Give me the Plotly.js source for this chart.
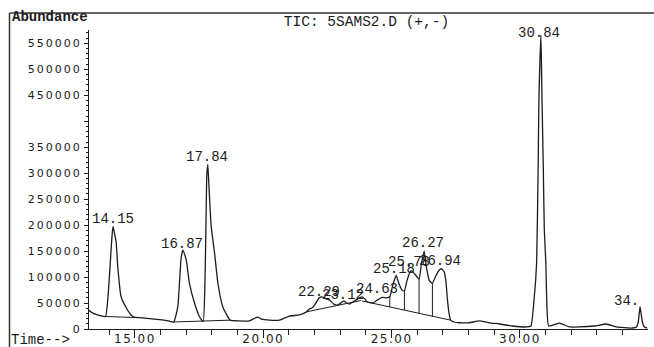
<!DOCTYPE html>
<html><head><meta charset="utf-8">
<script src="https://cdn.plot.ly/plotly-3.0.1.min.js"></script>
<style>
html,body{margin:0;padding:0;background:#fff;}
#chart{width:654px;height:347px;}
#chart .yaxislayer-above text{letter-spacing:2px;}
#chart .xaxislayer-above text{letter-spacing:1.5px;}
</style></head><body><div id="chart"></div>
<script>
// ---- data ----
const timeMin = [
 13.21,13.34,13.54,13.85,13.97,14.07,14.12,14.15,14.20,14.27,14.33,14.46,14.66,14.85,14.98,
 15.37,15.76,16.15,16.51,16.67,16.80,16.87,17.00,17.12,17.32,17.51,17.66,
 17.73,17.77,17.80,17.84,17.88,17.97,18.10,18.23,18.42,18.71,
 19.07,19.46,19.77,19.93,20.24,20.63,21.02,21.41,21.68,21.80,21.91,22.05,22.18,22.29,22.45,22.57,22.75,22.89,
 23.02,23.13,23.25,23.36,23.55,23.75,23.85,23.95,24.06,24.26,24.45,24.63,24.80,24.93,25.05,25.18,25.28,25.40,25.50,
 25.60,25.72,25.78,25.90,26.07,26.16,26.27,26.36,26.47,26.59,26.72,26.85,26.94,27.05,27.12,27.17,27.23,27.30,27.45,
 27.64,28.03,28.42,28.81,29.20,29.71,30.25,30.43,30.56,30.65,30.71,30.74,30.82,30.86,30.91,30.95,31.01,31.04,31.12,
 31.54,31.93,32.32,32.90,33.37,33.76,34.38,34.54,34.61,34.68,34.77,34.85,34.96
];
const abundance = [
 36000,31000,27000,24000,75000,152000,187000,197000,185000,166000,120000,62000,41000,27000,23000,
 21000,19000,17000,13500,43000,137000,152000,133000,89000,50000,24000,14000,
 95000,210000,297000,317000,278000,198000,147000,89000,43000,17000,
 15500,15500,23000,19000,17000,17000,25000,27000,33000,39000,41000,50000,60000,62000,58000,56000,48000,46000,
 50000,54000,50000,48000,54000,60000,62000,58000,52000,50000,56000,61000,60000,62000,85000,103000,88000,75000,73000,
 93000,110000,112000,106000,96000,125000,150000,118000,93000,88000,102000,113000,116000,110000,90000,60000,33000,17000,13000,
 12000,12000,15500,12000,9600,5800,3900,5800,62000,127000,313000,442000,566000,442000,313000,191000,127000,62000,5800,
 11500,3900,3900,5800,9600,3900,1900,3900,13500,43000,13500,3900,1900
];
// integration baselines (start/end time, start/end abundance)
const baseStartT = [13.86, 16.51, 21.68, 23.85];
const baseEndT   = [15.10, 18.71, 23.82, 27.30];
const baseStartA = [24000, 13500, 33000, 54000];
const baseEndA   = [22000, 17000, 55000, 17000];
// perpendicular drop lines (times)
const dropTimes = [24.93, 25.50, 26.07, 26.59];
// peak labels
const labelText  = ['14.15','16.87','17.84','22.29','23.12','24.63','25.18','25.78','26.27','26.94','30.84','34.'];
const labelTime  = [14.14, 16.85, 17.82, 22.19, 23.12, 24.43, 25.11, 25.69, 26.21, 26.88, 30.76, 34.73];
const labelAbund = [212000,164000,331000,71000,65000,77000,115000,129000,166000,131000,570000,54000];
// axis ticks
const yTickVals = [0,50000,100000,150000,200000,250000,300000,350000,400000,450000,500000,550000];
const yTickText = ['0','50000','100000','150000','200000','250000','300000','350000','','450000','500000','550000'];
const xTickVals = [15,20,25,30];
const xTickText = ['15.00','20.00','25.00','30.00'];

// ---- helpers ----
function interp(xs, ys, x){
  for(let i=0;i<xs.length-1;i++){
    if(x>=xs[i] && x<=xs[i+1]){ const f=(x-xs[i])/(xs[i+1]-xs[i]); return ys[i]+f*(ys[i+1]-ys[i]); }
  }
  return null;
}
const bx=[], by=[];
for(let i=0;i<baseStartT.length;i++){ bx.push(baseStartT[i],baseEndT[i],null); by.push(baseStartA[i],baseEndA[i],null); }
const dx=[], dy=[];
dropTimes.forEach(t=>{
  let b=null;
  for(let i=0;i<baseStartT.length;i++){ if(t>=baseStartT[i]&&t<=baseEndT[i]) b=interp([baseStartT[i],baseEndT[i]],[baseStartA[i],baseEndA[i]],t); }
  dx.push(t,t,null); dy.push(b, interp(timeMin,abundance,t), null);
});

const W=654,H=347,L=89,R=6,T=30,B=18;
const pw=W-L-R, ph=H-T-B;
const px=x=>(x-L)/pw, py=y=>(H-B-y)/ph;
const ink='#1c1c1c';
const mono='Liberation Mono, Courier New, monospace';

const traces=[
 {x:timeMin,y:abundance,type:'scatter',mode:'lines',line:{color:ink,width:1.3,shape:'spline',smoothing:0.4},hoverinfo:'skip',cliponaxis:false},
 {x:bx,y:by,type:'scatter',mode:'lines',line:{color:ink,width:1},hoverinfo:'skip'},
 {x:dx,y:dy,type:'scatter',mode:'lines',line:{color:ink,width:1},hoverinfo:'skip'}
];
const ann=labelText.map((s,i)=>({x:labelTime[i],y:labelAbund[i],xref:'x',yref:'y',text:s,showarrow:false,
  xanchor:(s==='34.')?'right':'center',yanchor:'middle',font:{family:mono,size:14,color:ink}}));
ann.push({xref:'paper',yref:'paper',x:px(10),y:py(17),text:'<b>Abundance</b>',showarrow:false,xanchor:'left',yanchor:'middle',
  font:{family:mono,size:14,color:ink}});
ann.push({xref:'paper',yref:'paper',x:px(9),y:py(340),text:'Time-->',showarrow:false,xanchor:'left',yanchor:'middle',
  font:{family:mono,size:14,color:ink}});

const layout={
 width:W,height:H,margin:{l:L,r:R,t:T,b:B},paper_bgcolor:'#fff',plot_bgcolor:'#fff',showlegend:false,
 title:{text:'TIC: 5SAMS2.D (+,-)',x:366.5/W,xref:'container',xanchor:'center',y:1-21/H,yref:'container',yanchor:'middle',
   font:{family:mono,size:14.5,color:ink}},
 xaxis:{range:[13.21,34.99],showgrid:false,zeroline:false,showline:true,linecolor:ink,linewidth:1,
   tickmode:'array',tickvals:xTickVals,ticktext:xTickText,ticks:'outside',ticklen:8,tickwidth:1,tickcolor:ink,
   ticklabelstandoff:-9,
   minor:{tickmode:'linear',tick0:0,dtick:1,ticks:'outside',ticklen:5,tickwidth:1,tickcolor:ink,showgrid:false},
   tickfont:{family:'DejaVu Sans',size:12,color:ink}},
 yaxis:{range:[0,575600],showgrid:false,zeroline:false,showline:true,linecolor:ink,linewidth:1,
   tickmode:'array',tickvals:yTickVals,ticktext:yTickText,ticks:'outside',ticklen:4,tickwidth:1,tickcolor:ink,
   minor:{tickmode:'linear',tick0:0,dtick:10000,ticks:'outside',ticklen:2,tickwidth:1,tickcolor:ink,showgrid:false},
   tickfont:{family:'DejaVu Sans',size:11,color:ink}},
 annotations:ann,
 shapes:[
  {type:'line',xref:'paper',yref:'paper',x0:px(9.5),x1:px(654),y0:py(13),y1:py(13),line:{color:'#333',width:1.5}},
  {type:'line',xref:'paper',yref:'paper',x0:px(9.5),x1:px(9.5),y0:py(13),y1:py(347),line:{color:'#333',width:1.5}}
 ]
};
Plotly.newPlot('chart',traces,layout,{staticPlot:true,displayModeBar:false});
</script></body></html>
